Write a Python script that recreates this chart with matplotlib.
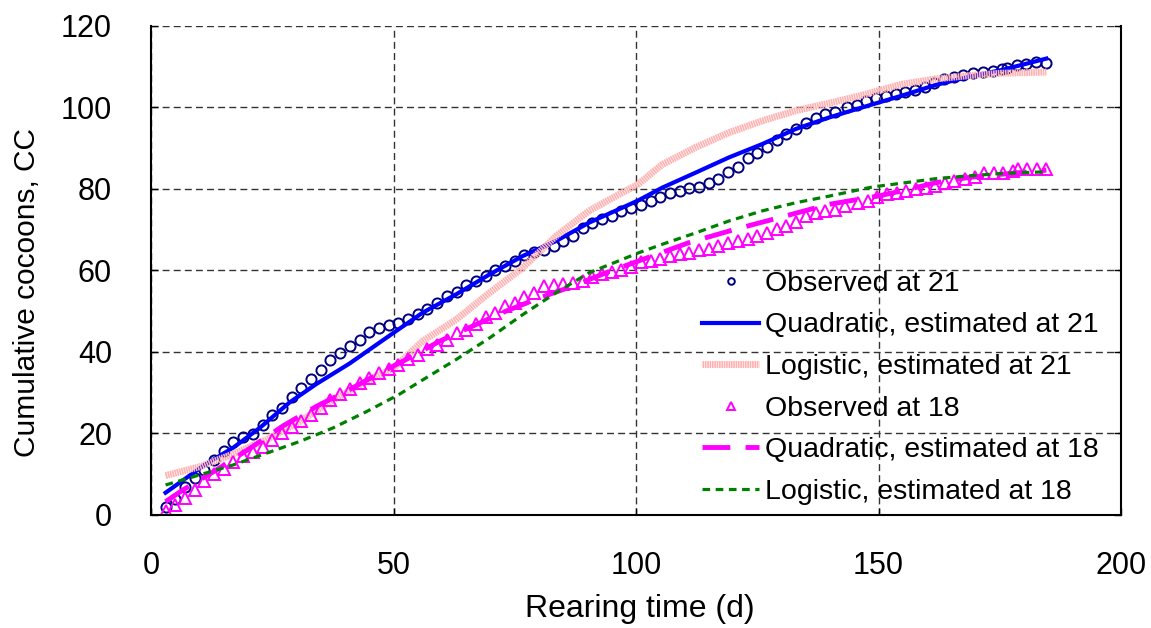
import matplotlib.pyplot as plt
import numpy as np

plt.rcParams['font.family'] = ['Liberation Sans', 'DejaVu Sans']
plt.rcParams['lines.scale_dashes'] = False

# observed at 21
obs21_day = [3, 5, 7, 9, 11, 13, 15, 17, 19, 21, 23, 25, 27, 29, 31, 33, 35, 37, 39, 41,
             43, 45, 47, 49, 51, 53, 55, 57, 59, 61, 63, 65, 67, 69, 71, 73, 75, 77, 79, 81,
             83, 85, 87, 89, 91, 93, 95, 97, 99, 101, 103, 105, 107, 109, 111, 113, 115, 117, 119, 121,
             123, 125, 127, 129, 131, 133, 135, 137, 139, 141, 143.5, 145.5, 147.5, 149.5, 151.5, 153.5, 155.5, 157.5, 159.5, 161.5,
             163.5, 165.5, 167.5, 169.5, 171.5, 173.5, 175.5, 176.5, 178.5, 180.5, 182.5, 184.5]
obs21_val = [1.8, 3.8, 6.7, 9.1, 11.1, 13.5, 15.7, 17.9, 19.0, 19.9, 22.0, 24.4, 26.1, 28.8, 31.2, 33.2, 35.6, 38.0, 39.7, 41.4,
             43.0, 44.8, 45.8, 46.5, 47.1, 48.1, 49.2, 50.6, 51.9, 53.6, 54.7, 56.3, 57.5, 58.7, 60.0, 61.0, 62.4, 63.7, 64.5, 65.0,
             66.1, 67.2, 68.5, 70.3, 71.6, 72.7, 73.3, 74.6, 75.4, 76.0, 77.0, 78.1, 79.1, 79.5, 80.1, 80.5, 81.4, 82.5, 84.2, 85.5,
             87.5, 88.9, 90.2, 92.0, 93.4, 94.7, 96.1, 97.4, 98.4, 99.0, 100.2, 100.7, 101.7, 102.2, 102.9, 103.4, 103.8, 104.4, 105.1, 106.1,
             107.0, 107.4, 108.0, 108.4, 108.8, 109.0, 109.4, 109.7, 110.4, 110.7, 111.1, 111.0]

# observed at 18
obs18_day = [3, 5, 7, 9, 11, 13, 15, 17, 19, 21, 23, 25, 27, 29, 31, 33, 35, 37, 39, 41,
             43, 45, 47, 49, 51, 53, 55, 57, 59, 61, 63, 65, 67, 69, 71, 73, 75, 77, 79, 81,
             83, 85, 87, 89, 91, 93, 95, 97, 99, 101, 103, 105, 107, 109, 111, 113, 115, 117, 119, 121,
             123, 125, 127, 129, 131, 133, 135, 137, 139, 141, 143, 145.7, 147.8, 149.7, 151.7, 153.7, 155.7, 157.7, 159.7, 161.7,
             163.6, 165.6, 167.8, 169.8, 171.7, 173.7, 175.7, 177.7, 178.7, 180.7, 182.7, 184.6]
obs18_val = [1.0, 2.4, 4.0, 6.1, 8.3, 9.9, 11.2, 12.9, 14.5, 15.4, 16.7, 18.4, 20.0, 21.5, 23.1, 24.5, 26.2, 28.2, 29.7, 30.9,
             32.3, 33.6, 34.9, 35.9, 36.8, 38.2, 39.3, 40.7, 41.6, 43.0, 44.6, 45.4, 46.8, 48.5, 49.6, 51.2, 52.0, 53.4, 54.5, 56.1,
             56.4, 56.7, 56.9, 57.3, 58.4, 59.0, 59.6, 60.2, 60.9, 62.0, 62.3, 62.8, 63.5, 64.1, 64.3, 65.1, 65.3, 65.9, 66.8, 67.2,
             67.6, 68.4, 69.2, 70.1, 71.0, 71.9, 73.3, 74.2, 74.6, 74.8, 75.8, 76.5, 77.0, 78.1, 78.7, 79.1, 79.5, 79.9, 80.3, 80.7,
             81.4, 81.9, 82.4, 83.0, 84.0, 84.0, 84.0, 84.3, 84.8, 84.8, 84.9, 84.9]

# fitted curves
quad21_day = [3, 11, 17, 22.4, 28.6, 34.1, 40.9, 49.2, 56, 62.9, 69.8, 76.6, 83.5, 90.3, 97.2, 100.5,
              105.4, 112.3, 119.1, 126, 132.9, 139.7, 146.6, 154.8, 161.7, 168.5, 175.4, 184.6]
quad21_val = [5.4, 12.2, 16.5, 21.3, 27.6, 32.1, 37.1, 44.0, 49.6, 54.1, 59.0, 63.5, 67.2, 71.7, 75.4, 77.2,
              80.3, 84.0, 87.7, 91.0, 94.7, 97.5, 100.0, 102.9, 105.5, 107.5, 109.2, 112.0]

logi21_day = [3, 10.1, 16.9, 23.8, 30.7, 37.5, 44.4, 50, 56, 62.9, 69.8, 76.6, 83.5, 90.3, 97.2, 100.5,
              105.4, 112.3, 119.1, 126, 132.9, 139.7, 146.6, 154.8, 161.7, 168.5, 175.4, 184.6]
logi21_val = [9.6, 11.8, 14.9, 18.4, 22.9, 28.2, 32.7, 36.0, 42.6, 47.9, 54.5, 60.6, 68.4, 74.6, 79.1, 81.2,
              86.0, 90.2, 93.8, 96.7, 99.2, 101.0, 103.0, 105.7, 107.0, 107.8, 108.4, 108.7]

quad18_day = [3, 6.6, 13.5, 20.4, 27.2, 34.1, 40.9, 47.8, 52.6, 59.5, 66.3, 73.2, 80, 86.9, 93.8, 100.5,
              110.9, 120.5, 129.4, 139.7, 149.7, 154.8, 161.7, 168.5, 175.4, 184.6]
quad18_val = [3.2, 6.1, 11.0, 16.3, 21.8, 26.6, 30.7, 35.2, 38.1, 42.6, 46.3, 50.0, 53.2, 56.1, 59.4, 62.3,
              66.8, 70.1, 72.9, 76.2, 78.2, 79.5, 81.5, 82.8, 83.6, 84.6]

logi18_day = [3, 10.1, 16.9, 23.8, 30.7, 37.5, 44.4, 51.1, 56.7, 62.9, 69.8, 76.6, 83.5, 90.3, 97.2, 100.5,
              105.4, 112.3, 119.1, 126, 132.9, 139.7, 148.8, 154.8, 161.7, 168.5, 175.4, 184.6]
logi18_val = [7.3, 9.8, 12.2, 15.1, 18.0, 21.3, 25.3, 29.5, 33.6, 38.1, 43.4, 49.1, 54.5, 59.4, 62.7, 64.3,
              66.4, 69.2, 72.1, 74.6, 76.6, 78.2, 80.5, 81.4, 82.5, 83.2, 83.8, 84.2]

fig = plt.figure(figsize=(11.51, 6.28), dpi=100)
ax = fig.add_axes([0.1312, 0.1804, 0.8428, 0.7782])

ax.plot(obs21_day, obs21_val, 'o', mfc='none', mec='#000080', ms=7.3, mew=1.4, label='Observed at 21')
ax.plot(quad21_day, quad21_val, '-', color='#0000FF', lw=3, label='Quadratic, estimated at 21')
ax.plot(logi21_day, logi21_val, color='#FFB0B0', lw=5, dashes=(1.2, 0.5), label='Logistic, estimated at 21')
ax.plot(obs18_day, obs18_val, '^', mfc='none', mec='#FF00FF', ms=8, mew=1.4, label='Observed at 18')
ax.plot(quad18_day, quad18_val, color='#FF00FF', lw=3.5, dashes=(20, 11), label='Quadratic, estimated at 18')
ax.plot(logi18_day, logi18_val, color='#008000', lw=2.3, dashes=(5.5, 4), label='Logistic, estimated at 18')

ax.set_xlim(0, 200)
ax.set_ylim(0, 120)
ax.set_xticks([0, 50, 100, 150, 200])
ax.set_yticks([0, 20, 40, 60, 80, 100, 120])
ax.grid(True, color='#333333', lw=1, dashes=(5, 3))
ax.tick_params(direction='in', labelsize=22, length=5, width=1, right=True)
ax.tick_params(axis='y', pad=28)
ax.tick_params(axis='x', pad=26)
for s in ['left', 'bottom', 'right']:
    ax.spines[s].set_linewidth(1.5)
ax.spines['top'].set_visible(False)

ax.set_xlabel('Rearing time (d)', fontsize=23)
ax.xaxis.set_label_coords(0.504, -0.163)
ax.set_ylabel('Cumulative cocoons, CC', fontsize=21.5)
ax.yaxis.set_label_coords(-0.113, 0.455)

ax.legend(loc='upper left', bbox_to_anchor=(0.5417, 0.5515), frameon=False, fontsize=20.5,
          markerscale=0.65, handlelength=2.0, handletextpad=0.2, labelspacing=0.55)

fig.savefig('out.png', dpi=100)
